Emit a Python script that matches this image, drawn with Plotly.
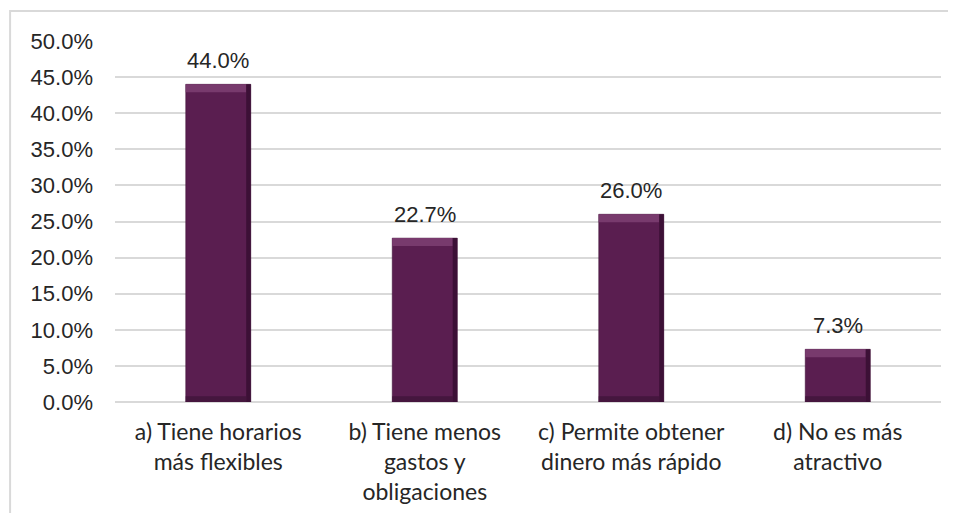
import plotly.graph_objects as go

categories = [
    "a) Tiene horarios<br>más flexibles",
    "b) Tiene menos<br>gastos y<br>obligaciones",
    "c) Permite obtener<br>dinero más rápido",
    "d) No es más<br>atractivo",
]
values = [0.440, 0.227, 0.260, 0.073]
y_ticks = [0, 0.05, 0.10, 0.15, 0.20, 0.25, 0.30, 0.35, 0.40, 0.45, 0.50]
labels = [f"{v*100:.1f}%" for v in values]

# style constants for the bevel look
BAR_W = 0.315
TOP_BAND = 0.011
BOT_BAND = 0.008
EDGE_W = 0.022

fig = go.Figure()
# main bar body
fig.add_trace(go.Bar(
    x=categories, y=values, width=BAR_W, offset=-BAR_W / 2,
    marker=dict(color="#5A1E50", line=dict(color="#3A0C33", width=0.5)),
    hoverinfo="skip",
))
# bottom dark band
fig.add_trace(go.Bar(
    x=categories, y=[BOT_BAND] * len(values), base=[0] * len(values),
    width=BAR_W - EDGE_W, offset=-BAR_W / 2,
    marker=dict(color="#45163E", line=dict(width=0)), hoverinfo="skip",
))
# top light band
fig.add_trace(go.Bar(
    x=categories, y=[TOP_BAND] * len(values), base=[v - TOP_BAND for v in values],
    width=BAR_W - EDGE_W, offset=-BAR_W / 2,
    marker=dict(color="#783A6D", line=dict(width=0)), hoverinfo="skip",
))
# right dark edge
fig.add_trace(go.Bar(
    x=categories, y=values, width=EDGE_W, offset=BAR_W / 2 - EDGE_W,
    marker=dict(color="#3C1036", line=dict(width=0)), hoverinfo="skip",
))

annotations = [
    dict(x=c, y=v, text=t, showarrow=False, xref="x", yref="y",
         yanchor="middle", yshift=24,
         font=dict(family="Liberation Sans, Arial", size=22, color="#262626"))
    for c, v, t in zip(categories, values, labels)
]

fig.update_layout(
    width=948, height=505,
    margin=dict(l=107, r=15, t=33, b=111),
    paper_bgcolor="white", plot_bgcolor="white",
    showlegend=False, barmode="overlay",
    xaxis=dict(
        tickfont=dict(family="Lato, Noto Sans, sans-serif", size=23, color="#262626"),
        showgrid=False, showline=False, ticks="", ticklabelstandoff=14,
        automargin=False,
    ),
    yaxis=dict(
        range=[0, 0.5], tickvals=y_ticks, tickformat=".1%",
        tickfont=dict(family="Liberation Sans, Arial", size=22, color="#262626"),
        gridcolor="#D9D9D9", gridwidth=1.5, zeroline=True, zerolinecolor="#D9D9D9",
        zerolinewidth=1.5, showline=False, ticks="", ticklen=0, ticklabelstandoff=21,
        automargin=False,
    ),
    annotations=annotations,
    shapes=[dict(
        type="rect", xref="paper", yref="paper",
        x0=-0.127, x1=1.1, y0=-0.4, y1=1.083,
        line=dict(color="#D9D9D9", width=2), fillcolor="rgba(0,0,0,0)",
    )],
)

fig.write_html("out.html")
